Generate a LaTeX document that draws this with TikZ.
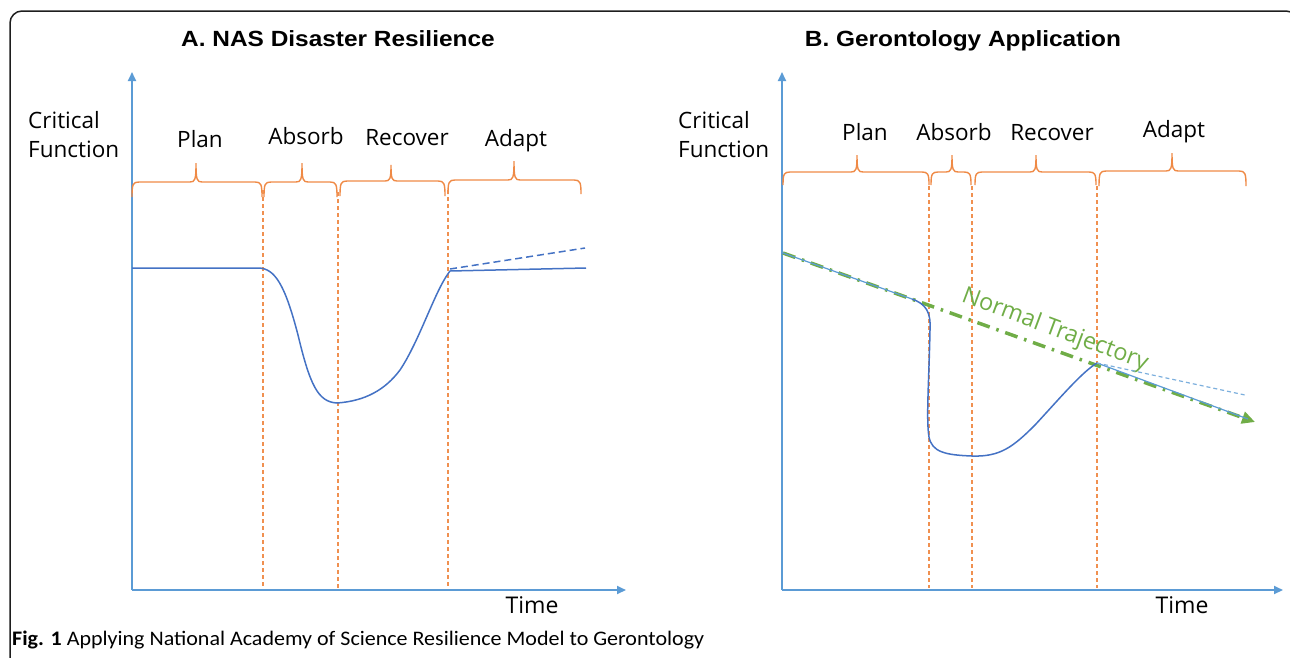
\documentclass[tikz,border=0pt]{standalone}
\usepackage{fontspec}
\setmainfont{Open Sans}
\newfontfamily\titlefont{Liberation Sans}
\newfontfamily\capfont{Carlito}
\usetikzlibrary{arrows.meta}
\definecolor{axisblue}{HTML}{5B9BD5}
\definecolor{curveblue}{HTML}{4472C4}
\definecolor{brorange}{HTML}{ED7D31}
\definecolor{trgreen}{HTML}{70AD47}
\definecolor{framegray}{HTML}{1E1E1E}
\newcommand\bracedraw[6]{%
  \draw[bracestyle] (#1,#6) .. controls (#1,{#4+2}) and ({#1+1},#4) .. ({#1+7},#4)
    -- ({#2-6},#4) .. controls ({#2-1},#4) and (#2,{#4-2}) .. (#2,#5)
    .. controls (#2,{#4-2}) and ({#2+1},#4) .. ({#2+6},#4)
    -- ({#3-7},#4) .. controls ({#3-1},#4) and (#3,{#4+2}) .. (#3,#6);}
\tikzset{
  bracestyle/.style={draw=brorange!90, line width=1.4pt},
  axisstyle/.style={draw=axisblue, line width=1.8pt, -{Triangle[length=9pt,width=8pt]}},
  phaseline/.style={draw=brorange!85, line width=1.2pt, dash pattern=on 4pt off 3pt},
  curvestyle/.style={draw=curveblue, line width=1.5pt},
  lightline/.style={draw=axisblue, line width=1.2pt},
  dashcurve/.style={draw=curveblue, line width=1.5pt, dash pattern=on 7pt off 4pt},
  lightdash/.style={draw=axisblue!80, line width=1.2pt, dash pattern=on 4pt off 3pt},
  trajectory/.style={draw=trgreen, line width=3.5pt, dash pattern=on 13pt off 7pt on 2.5pt off 7pt, -{Triangle[length=13pt,width=12pt]}},
  lab/.style={font=\fontsize{22.5}{28}\selectfont, inner sep=0pt, anchor=base},
  ylab/.style={font=\fontsize{22.5}{29}\selectfont, inner sep=0pt, anchor=base west},
  ttl/.style={font=\titlefont\bfseries\fontsize{22}{26}\selectfont, inner sep=0pt, anchor=base},
}
\begin{document}
\begin{tikzpicture}[x=1pt, y=-1pt]
\useasboundingbox (0,0) rectangle (1290,657);
% frame
\draw[framegray, line width=1.5pt, rounded corners=12pt] (10,668) -- (10,11) -- (1298,11) -- (1298,668);

% ---------- Panel A ----------
\node[ttl] (titleA) at (338,46) {\scalebox{1.11}[1]{A. NAS Disaster Resilience}};
\coordinate (oA) at (132,590);
\coordinate (yA) at (132,72);
\coordinate (xA) at (626,590);
\draw[axisstyle] (oA) -- (yA);
\draw[axisstyle] (oA) -- (xA);
\node[ylab] (critA) at (28,128) {Critical};
\node[ylab] (funcA) at (28,157) {Function};
\node[lab] (planA) at (200,147) {Plan};
\node[lab] (absorbA) at (306,144) {Absorb};
\node[lab] (recoverA) at (407,145) {Recover};
\node[lab] (adaptA) at (516,146) {Adapt};
\node[lab, font=\fontsize{23}{28}\selectfont] (timeA) at (532,613) {Time};
\bracedraw{132}{196}{262}{182}{163}{197}
\bracedraw{264}{302}{337}{182}{163}{197}
\bracedraw{340}{391}{445}{181}{165}{196}
\bracedraw{448}{514}{581}{180}{161}{194}
\coordinate (pa1t) at (263,190); \coordinate (pa1b) at (263,588);
\coordinate (pa2t) at (338,192); \coordinate (pa2b) at (338,588);
\coordinate (pa3t) at (448,190); \coordinate (pa3b) at (448,588);
\draw[phaseline] (pa1t) -- (pa1b);
\draw[phaseline] (pa2t) -- (pa2b);
\draw[phaseline] (pa3t) -- (pa3b);
\coordinate (cAstart) at (132,268);
\coordinate (cAjoin) at (450,271);
\coordinate (cAend) at (586,268);
\coordinate (cAdash) at (585,248);
\draw[curvestyle] (cAstart) -- (258,268) .. controls (275,268) and (285,285) .. (298,335)
  .. controls (310,385) and (318,402) .. (337,403)
  .. controls (365,401) and (385,390) .. (400,370)
  .. controls (420,340) and (435,290) .. (cAjoin) -- (cAend);
\draw[dashcurve] (450,269) -- (cAdash);

% ---------- Panel B ----------
\node[ttl] (titleB) at (963,46) {\scalebox{1.11}[1]{B. Gerontology Application}};
\coordinate (oB) at (782,590);
\coordinate (yB) at (782,72);
\coordinate (xB) at (1283,590);
\draw[axisstyle] (oB) -- (yB);
\draw[axisstyle] (oB) -- (xB);
\node[ylab] (critB) at (678,128) {Critical};
\node[ylab] (funcB) at (678,157) {Function};
\node[lab] (planB) at (865,140) {Plan};
\node[lab] (absorbB) at (954,140) {Absorb};
\node[lab] (recoverB) at (1052,140) {Recover};
\node[lab] (adaptB) at (1174,137) {Adapt};
\node[lab, font=\fontsize{23}{28}\selectfont] (timeB) at (1182,613) {Time};
\bracedraw{783}{857}{929}{172}{155}{185}
\bracedraw{931}{952}{971}{172}{155}{185}
\bracedraw{975}{1036}{1096}{172}{155}{185}
\bracedraw{1099}{1172}{1246}{171}{153}{186}
\coordinate (pb1t) at (929,186); \coordinate (pb1b) at (929,588);
\coordinate (pb2t) at (972,186); \coordinate (pb2b) at (972,588);
\coordinate (pb3t) at (1097,186); \coordinate (pb3b) at (1097,588);
\draw[phaseline] (pb1t) -- (pb1b);
\draw[phaseline] (pb2t) -- (pb2b);
\draw[phaseline] (pb3t) -- (pb3b);
\coordinate (gstart) at (783,253);
\coordinate (gend) at (1255,422);
\draw[trajectory] (gstart) -- (gend);
\node[font=\fontsize{23.5}{28}\selectfont, text=trgreen, rotate=-20.5, inner sep=0pt] (normal) at (1055,330) {Normal Trajectory};
\coordinate (knee) at (912,299);
\coordinate (recov) at (1097,363);
\coordinate (bdash) at (1245,395);
\coordinate (bend) at (1248,419);
\draw[lightline] (gstart) -- (knee);
\draw[curvestyle] (knee) .. controls (926,304) and (931,312) .. (930,330)
  .. controls (929,380) and (926,420) .. (929,437)
  .. controls (932,452) and (945,455) .. (972,456)
  .. controls (1000,457) and (1013,447) .. (1035,425)
  .. controls (1060,398) and (1082,372) .. (recov);
\draw[lightline] (recov) -- (bend);
\draw[lightdash] (recov) -- (bdash);

% caption
\node[inner sep=0pt, anchor=base west] (caption) at (12,645) {\resizebox{692pt}{14.5pt}{\capfont\textbf{Fig. 1} Applying National Academy of Science Resilience Model to Gerontology}};
\end{tikzpicture}
\end{document}
